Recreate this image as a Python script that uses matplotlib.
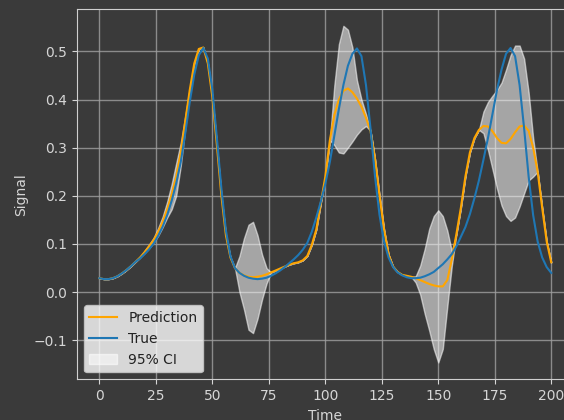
import numpy as np
import matplotlib
matplotlib.use("Agg")
import matplotlib.pyplot as plt

# Time grid (every 2 time steps)
time = np.arange(0, 201, 2)

true_signal = [
    0.029, 0.027, 0.027, 0.029, 0.033, 0.039, 0.046, 0.054, 0.063, 0.070,
    0.079, 0.089, 0.101, 0.117, 0.136, 0.160, 0.190, 0.226, 0.270, 0.330,
    0.395, 0.452, 0.492, 0.507, 0.485, 0.420, 0.320, 0.215, 0.128, 0.075,
    0.050, 0.040, 0.034, 0.030, 0.028, 0.027, 0.028, 0.030, 0.034, 0.039,
    0.045, 0.052, 0.060, 0.068, 0.077, 0.088, 0.102, 0.125, 0.155, 0.188,
    0.225, 0.270, 0.325, 0.380, 0.430, 0.470, 0.495, 0.506, 0.490, 0.430,
    0.340, 0.240, 0.160, 0.105, 0.072, 0.052, 0.041, 0.035, 0.031, 0.029,
    0.029, 0.030, 0.033, 0.037, 0.042, 0.050, 0.058, 0.068, 0.079, 0.095,
    0.115, 0.135, 0.162, 0.195, 0.232, 0.275, 0.320, 0.370, 0.420, 0.462,
    0.495, 0.507, 0.490, 0.430, 0.340, 0.240, 0.160, 0.105, 0.072, 0.052,
    0.040,
]

prediction = [
    0.029, 0.027, 0.027, 0.029, 0.033, 0.039, 0.046, 0.054, 0.063, 0.072,
    0.083, 0.095, 0.108, 0.125, 0.146, 0.172, 0.203, 0.240, 0.290, 0.355,
    0.420, 0.475, 0.505, 0.508, 0.475, 0.405, 0.305, 0.200, 0.118, 0.072,
    0.050, 0.040, 0.035, 0.032, 0.031, 0.032, 0.034, 0.037, 0.041, 0.045,
    0.049, 0.053, 0.057, 0.060, 0.062, 0.066, 0.075, 0.098, 0.130, 0.185,
    0.240, 0.315, 0.368, 0.400, 0.418, 0.423, 0.415, 0.402, 0.385, 0.362,
    0.335, 0.276, 0.200, 0.130, 0.078, 0.053, 0.042, 0.036, 0.034, 0.032,
    0.029, 0.025, 0.021, 0.017, 0.014, 0.012, 0.012, 0.025, 0.068, 0.120,
    0.175, 0.240, 0.290, 0.320, 0.337, 0.345, 0.344, 0.334, 0.320, 0.310,
    0.309, 0.318, 0.332, 0.344, 0.346, 0.335, 0.300, 0.250, 0.175, 0.105,
    0.062,
]

ci_lower = [
    0.029, 0.027, 0.027, 0.029, 0.033, 0.039, 0.046, 0.054, 0.063, 0.072,
    0.081, 0.091, 0.103, 0.117, 0.135, 0.155, 0.172, 0.200, 0.262, 0.340,
    0.415, 0.475, 0.505, 0.508, 0.475, 0.405, 0.305, 0.200, 0.118, 0.072,
    0.050, 0.000, -0.036, -0.078, -0.085, -0.055, -0.015, 0.018, 0.041, 0.045,
    0.049, 0.053, 0.057, 0.060, 0.062, 0.066, 0.075, 0.098, 0.130, 0.185,
    0.240, 0.315, 0.305, 0.290, 0.288, 0.300, 0.313, 0.327, 0.338, 0.345,
    0.335, 0.276, 0.200, 0.130, 0.078, 0.053, 0.042, 0.036, 0.034, 0.032,
    0.020, -0.005, -0.045, -0.080, -0.118, -0.146, -0.118, -0.030, 0.055, 0.120,
    0.175, 0.240, 0.290, 0.320, 0.337, 0.330, 0.295, 0.255, 0.215, 0.180,
    0.158, 0.148, 0.155, 0.178, 0.205, 0.232, 0.240, 0.250, 0.175, 0.105,
    0.062,
]

ci_upper = [
    0.029, 0.027, 0.027, 0.029, 0.033, 0.039, 0.046, 0.054, 0.063, 0.072,
    0.086, 0.099, 0.113, 0.133, 0.157, 0.188, 0.225, 0.268, 0.310, 0.365,
    0.423, 0.475, 0.505, 0.508, 0.475, 0.405, 0.305, 0.200, 0.118, 0.072,
    0.050, 0.075, 0.112, 0.140, 0.146, 0.118, 0.078, 0.050, 0.041, 0.045,
    0.049, 0.053, 0.057, 0.060, 0.062, 0.066, 0.075, 0.098, 0.130, 0.185,
    0.240, 0.315, 0.430, 0.515, 0.553, 0.545, 0.508, 0.440, 0.400, 0.370,
    0.335, 0.276, 0.200, 0.130, 0.078, 0.053, 0.042, 0.036, 0.034, 0.032,
    0.033, 0.055, 0.090, 0.132, 0.158, 0.170, 0.158, 0.128, 0.085, 0.120,
    0.175, 0.240, 0.290, 0.320, 0.337, 0.375, 0.395, 0.408, 0.420, 0.435,
    0.462, 0.492, 0.512, 0.512, 0.485, 0.415, 0.320, 0.250, 0.175, 0.105,
    0.062,
]

bg = "#3a3a3a"
fg = "#d6d6d6"

plt.rcParams.update({
    "figure.facecolor": bg,
    "axes.facecolor": bg,
    "axes.edgecolor": "#cfcfcf",
    "axes.labelcolor": fg,
    "xtick.color": fg,
    "ytick.color": fg,
    "grid.color": "#a0a0a0",
    "grid.alpha": 0.8,
    "grid.linewidth": 1.0,
})

fig = plt.figure(figsize=(5.64, 4.20), dpi=100)
ax = fig.add_axes([0.1362, 0.0969, 0.8812, 0.8817])

ax.plot(time, prediction, color="orange", lw=1.5, label="Prediction")
ax.plot(time, true_signal, color="#1f77b4", lw=1.5, label="True")
ax.fill_between(time, ci_lower, ci_upper, color="white", alpha=0.55,
                lw=1.0, label="95% CI")

ax.set_xlim(-10, 210)
ax.set_xlabel("Time")
ax.set_ylabel("Signal")
ax.grid(True)
ax.set_axisbelow(True)

leg = ax.legend(loc="lower left", facecolor="white", framealpha=0.8,
                edgecolor="#cccccc")
for t in leg.get_texts():
    t.set_color("#222222")

fig.savefig("out.png", dpi=100, facecolor=bg)
